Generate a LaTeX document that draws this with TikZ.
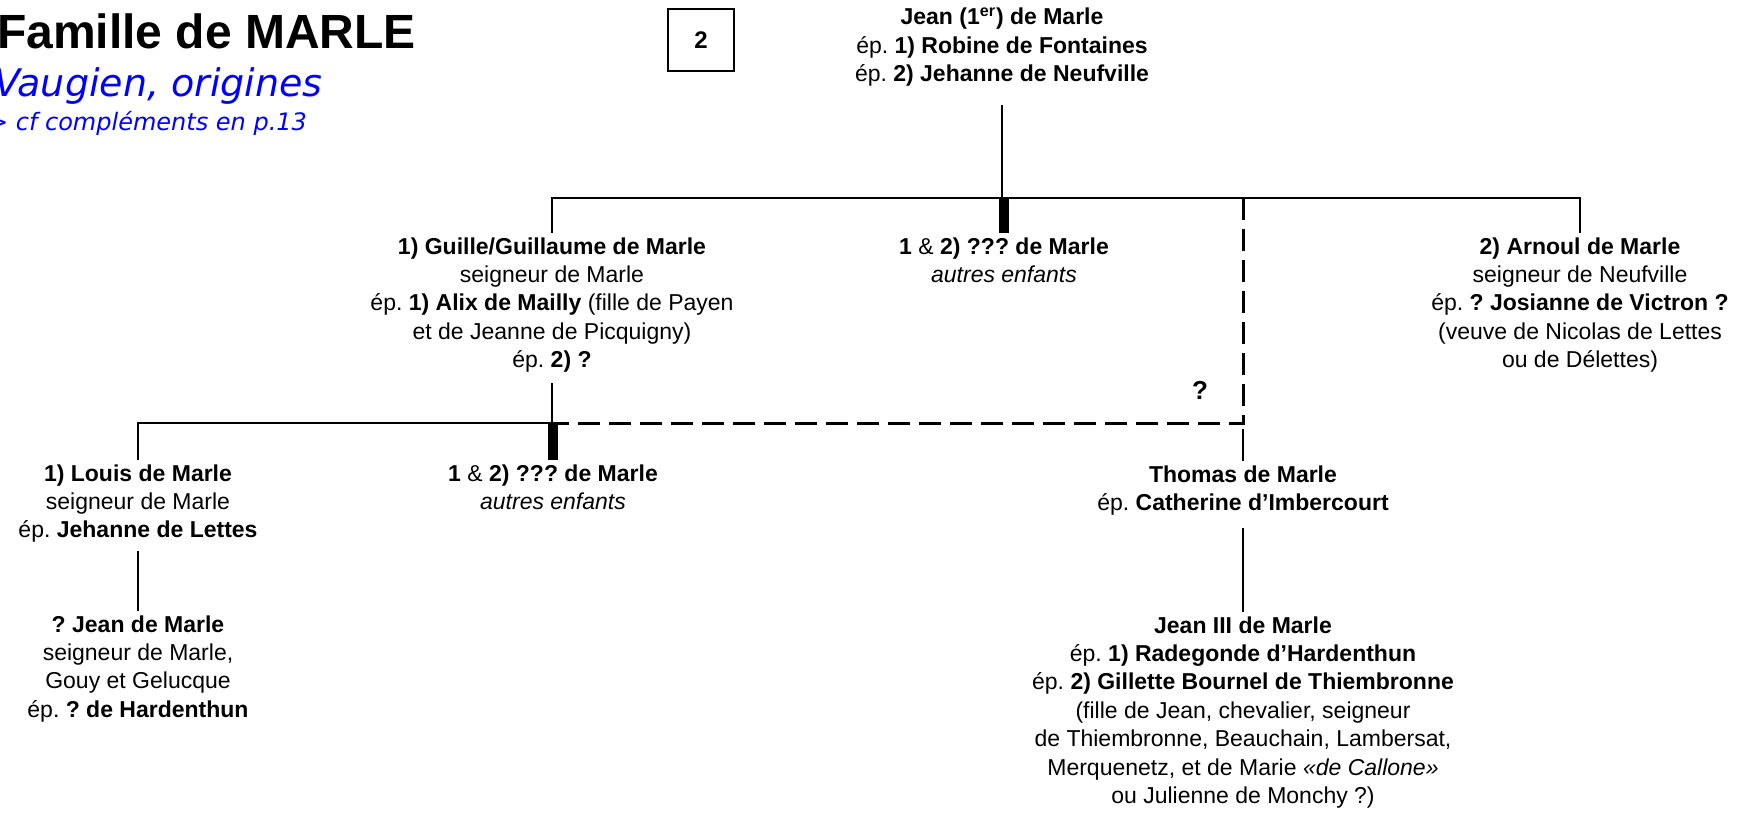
\documentclass[tikz,border=0pt]{standalone}
\usepackage{fontspec}
\setmainfont{Liberation Sans}
\newfontfamily\verdanafont{DejaVu Sans}
\usepackage{xcolor}
\usepackage{tikz}
\usetikzlibrary{positioning, calc}
\definecolor{titleblue}{RGB}{0,0,255}
\frenchspacing

\begin{document}
\begin{tikzpicture}[x=0.5pt, y=-0.5pt,
  person/.style={anchor=north, align=center, inner sep=2pt, font=\fontsize{11.5}{14.2}\selectfont},
  link/.style={line width=1.1pt},
  stub/.style={line width=5pt},
  unsure/.style={line width=1.5pt, dash pattern=on 11pt off 4.5pt},
  pagebox/.style={rectangle, draw, line width=1pt, minimum width=33pt, minimum height=31pt, font=\bfseries\fontsize{12}{14}\selectfont}
]
\useasboundingbox (0,0) rectangle (1742,814);

\node[anchor=base west, font=\bfseries\fontsize{24}{28}\selectfont] (title) at (-10,48) {Famille de MARLE};
\node[anchor=base west, text=titleblue, font=\verdanafont\itshape\fontsize{19}{22}\selectfont] (subtitle) at (-13,96) {Vaugien, origines};
\node[anchor=base east, text=titleblue, font=\verdanafont\itshape\fontsize{12}{14}\selectfont] (crossref) at (314,130) {> cf compléments en p.13};
\node[pagebox] (page) at (701,40) {2};

\node[person] (jean1) at (1002,3) {\textbf{Jean (1\textsuperscript{er}) de Marle}\\ép. \textbf{1) Robine de Fontaines}\\ép. \textbf{2) Jehanne de Neufville}};

\node[person] (guille) at (552,233) {\textbf{1) Guille/Guillaume de Marle}\\seigneur de Marle\\ép. \textbf{1) Alix de Mailly} (fille de Payen\\et de Jeanne de Picquigny)\\ép. \textbf{2) ?}};
\node[person] (sibs1) at (1004,233) {\textbf{1} \& \textbf{2) ??? de Marle}\\\textit{autres enfants}};
\node[person] (arnoul) at (1580,233) {\textbf{2) Arnoul de Marle}\\seigneur de Neufville\\ép. \textbf{? Josianne de Victron ?}\\(veuve de Nicolas de Lettes\\ou de Délettes)};
\node[font=\bfseries\fontsize{13}{15}\selectfont] (doubt) at (1200,390) {?};

\node[person] (louis) at (138,460) {\textbf{1) Louis de Marle}\\seigneur de Marle\\ép. \textbf{Jehanne de Lettes}};
\node[person] (sibs2) at (553,460) {\textbf{1} \& \textbf{2) ??? de Marle}\\\textit{autres enfants}};
\node[person] (thomas) at (1243,461) {\textbf{Thomas de Marle}\\ép. \textbf{Catherine d’Imbercourt}};

\node[person] (jeanq) at (138,611) {\textbf{? Jean de Marle}\\seigneur de Marle,\\Gouy et Gelucque\\ép. \textbf{? de Hardenthun}};
\node[person] (jean3) at (1243,612) {\textbf{Jean III de Marle}\\ép. \textbf{1) Radegonde d’Hardenthun}\\ép. \textbf{2) Gillette Bournel de Thiembronne}\\(fille de Jean, chevalier, seigneur\\de Thiembronne, Beauchain, Lambersat,\\Merquenetz, et de Marie \textit{«de Callone»}\\ou Julienne de Monchy ?)};

\coordinate (fork1) at (1002,198);
\coordinate (fork2) at (552,423);

\draw[link, shorten <=7pt] (jean1.south) -- (fork1);
\draw[link] (guille.north) |- (fork1) -| (arnoul.north);
\draw[stub] (sibs1.north |- fork1) -- (sibs1.north);
\draw[unsure] (thomas.north |- fork1) -- (thomas.north |- fork2) -- (fork2);

\draw[link, shorten <=3pt] (guille.south) -- (fork2);
\draw[link] (fork2) -| (louis.north);
\draw[stub] (sibs2.north |- fork2) -- (sibs2.north);
\draw[link, shorten <=3pt] (thomas.north |- fork2) -- (thomas.north);

\draw[link, shorten <=2pt] (louis.south) -- (jeanq.north);
\draw[link, shorten <=4pt] (thomas.south) -- (jean3.north);
\end{tikzpicture}
\end{document}
